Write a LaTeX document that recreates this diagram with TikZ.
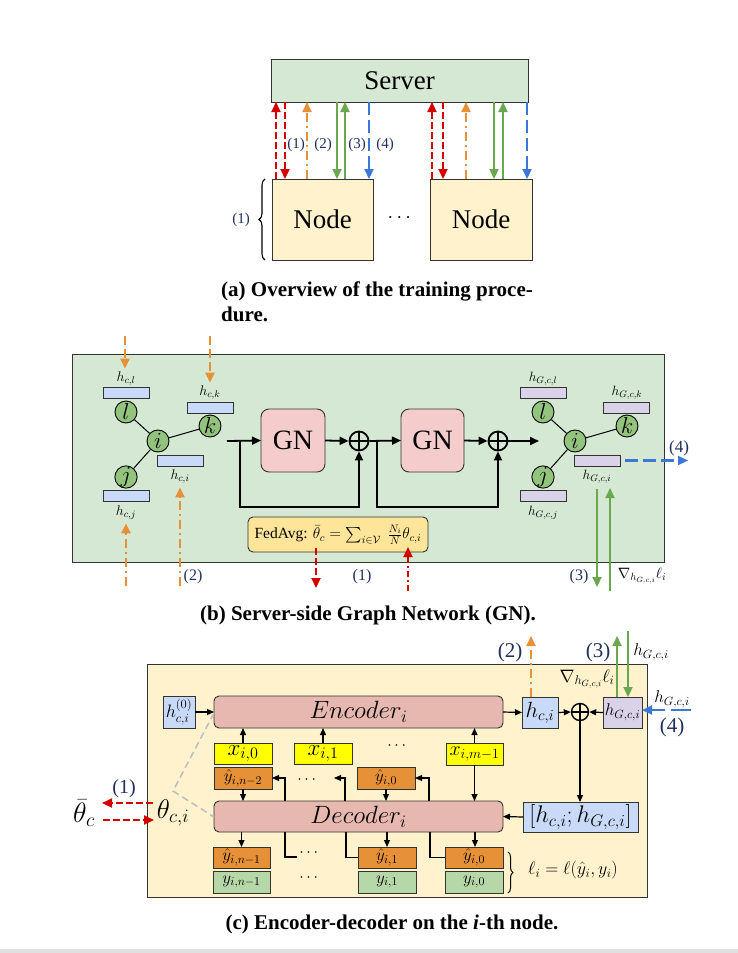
\RequirePackage{fix-cm}
\documentclass[tikz,border=0pt]{standalone}
\usepackage[no-math]{fontspec}
\setmainfont{Liberation Serif}
\usepackage{amsmath,amssymb}
\usetikzlibrary{arrows.meta,calc,decorations.pathreplacing}
\newcommand{\fsz}[1]{\fontsize{#1}{#1}\selectfont}
\definecolor{gnfill}{HTML}{D5E8D4}
\definecolor{nodefill}{HTML}{FFF2CC}
\definecolor{pinkfill}{HTML}{F4CCCC}
\definecolor{encfill}{HTML}{E6B8AF}
\definecolor{barblue}{HTML}{C9DAF8}
\definecolor{barpurple}{HTML}{D9D2E9}
\definecolor{xyellow}{HTML}{FFFF00}
\definecolor{yorange}{HTML}{E69138}
\definecolor{ygreen}{HTML}{B6D7A8}
\definecolor{fedfill}{HTML}{FFE599}
\definecolor{circgreen}{HTML}{93C47D}
\definecolor{ared}{HTML}{D40000}
\definecolor{aorange}{HTML}{E69138}
\definecolor{agreen}{HTML}{6AA84F}
\definecolor{ablue}{HTML}{3C78D8}
\definecolor{labblue}{HTML}{1F2F5F}
\definecolor{edge}{HTML}{333333}
\definecolor{grayline}{HTML}{BDBDBD}
\tikzset{
  bx/.style={draw=edge, line width=0.9pt, inner sep=0pt, outer sep=0pt, anchor=center},
  arrtip/.style={-{Triangle[length=10pt,width=9pt]}},
  aR/.style={draw=ared, line width=2.2pt, dash pattern=on 7pt off 3pt, arrtip},
  aO/.style={draw=aorange, line width=2.2pt, dash pattern=on 9pt off 4pt on 2pt off 4pt, arrtip},
  aOd/.style={draw=aorange, line width=2.2pt, dash pattern=on 9pt off 4pt, arrtip},
  aG/.style={draw=agreen, line width=2.2pt, arrtip},
  aB/.style={draw=ablue, line width=2.2pt, dash pattern=on 13pt off 5pt, arrtip},
  blk/.style={draw=black, line width=1.8pt, -{Triangle[length=9pt,width=8pt]}},
  blks/.style={draw=black, line width=1.2pt, -{Triangle[length=7pt,width=6pt]}},
  plainl/.style={draw=black, line width=1.2pt},
  lab/.style={text=labblue, inner sep=0pt},
  gcirc/.style={circle, draw=black, fill=circgreen, line width=0.9pt, minimum size=22pt, inner sep=0pt, font=\fsz{23}},
  barb/.style={bx, fill=barblue, minimum width=46pt, minimum height=11pt},
  barp/.style={bx, fill=barpurple, minimum width=46pt, minimum height=11pt},
  oplus/.style={circle, draw=black, line width=1.8pt, minimum size=19pt, inner sep=0pt,
    path picture={\draw[line width=1.8pt] (path picture bounding box.north) -- (path picture bounding box.south)
      (path picture bounding box.west) -- (path picture bounding box.east);}},
  captext/.style={inner sep=0pt, font=\fsz{21}\bfseries},
}
\begin{document}
\begin{tikzpicture}[x=1pt,y=-1pt]
\useasboundingbox (0,0) rectangle (738,953);
\fill[white] (0,0) rectangle (738,953);
\fill[black!12] (0,949) rectangle (738,953);

%% ---------------- (a) ----------------
\node[bx, fill=gnfill, minimum width=257pt, minimum height=43pt, font=\fsz{27}] (server) at (399.5,80.5) {Server};
\node[bx, fill=nodefill, minimum width=101pt, minimum height=81pt, font=\fsz{27}] (nodeL) at (322.5,219.5) {Node};
\node[bx, fill=nodefill, minimum width=102pt, minimum height=81pt, font=\fsz{27}] (nodeR) at (481,219.5) {Node};
\node[font=\fsz{20}] (dotsA) at (401,218) {$\cdots$};

\draw[aR] (nodeL.north -| 276,0) -- (server.south -| 276,0);
\draw[aR] (server.south -| 285,0) -- (nodeL.north -| 285,0);
\draw[aO] (nodeL.north -| 307,0) -- (server.south -| 307,0);
\draw[aG] (server.south -| 337,0) -- (nodeL.north -| 337,0);
\draw[aG] (nodeL.north -| 345,0) -- (server.south -| 345,0);
\draw[aB] (server.south -| 369,0) -- (nodeL.north -| 369,0);

\draw[aR] (nodeR.north -| 432,0) -- (server.south -| 432,0);
\draw[aR] (server.south -| 443,0) -- (nodeR.north -| 443,0);
\draw[aO] (nodeR.north -| 466,0) -- (server.south -| 466,0);
\draw[aG] (server.south -| 494,0) -- (nodeR.north -| 494,0);
\draw[aG] (nodeR.north -| 503,0) -- (server.south -| 503,0);
\draw[aB] (server.south -| 527,0) -- (nodeR.north -| 527,0);

\node[lab, font=\fsz{15}] (la1) at (296,145) {(1)};
\node[lab, font=\fsz{15}] (la2) at (323,145) {(2)};
\node[lab, font=\fsz{15}] (la3) at (357,145) {(3)};
\node[lab, font=\fsz{15}] (la4) at (385,145) {(4)};

\draw[decorate, decoration={brace, amplitude=6pt}, line width=1.1pt] (265,260) -- (265,179);
\node[lab, font=\fsz{15}] (lab1) at (241,220) {(1)};

\node[captext, anchor=west] (capA1) at (221,291) {(a) Overview of the training proce-};
\node[captext, anchor=west] (capA2) at (221,314) {dure.};

%% ---------------- (b) ----------------
\node[bx, fill=gnfill, minimum width=592pt, minimum height=208pt] (gnbox) at (368,458) {};

% left graph
\node[barb] (bcl) at (126,392.5) {};
\node[barb] (bck) at (210.5,407.5) {};
\node[barb] (bci) at (180.5,460.5) {};
\node[barb] (bcj) at (126,495.5) {};
\node[gcirc] (gl) at (126,412) {$l$};
\node[gcirc] (gi) at (158,441) {$i$};
\node[gcirc] (gk) at (210,426) {$k$};
\node[gcirc] (gj) at (126,477) {$j$};
\draw[line width=1pt] (gi) -- (gl) (gi) -- (gk) (gi) -- (gj);
\node[font=\fsz{14}] (tcl) at (126,379) {$h_{c,l}$};
\node[font=\fsz{14}] (tck) at (210,393) {$h_{c,k}$};
\node[font=\fsz{14}] (tci) at (180,477) {$h_{c,i}$};
\node[font=\fsz{14}] (tcj) at (126,513) {$h_{c,j}$};

% right graph
\node[barp] (bgl) at (543,392.5) {};
\node[barp] (bgk) at (626.5,407.5) {};
\node[barp] (bgi) at (597,460.5) {};
\node[barp] (bgj) at (543,495.5) {};
\node[gcirc] (hl) at (543,412) {$l$};
\node[gcirc] (hi) at (575,441) {$i$};
\node[gcirc] (hk) at (627,426) {$k$};
\node[gcirc] (hj) at (543,477) {$j$};
\draw[line width=1pt] (hi) -- (hl) (hi) -- (hk) (hi) -- (hj);
\node[font=\fsz{13.5}] (tgl) at (543,379) {$h_{G,c,l}$};
\node[font=\fsz{13.5}] (tgk) at (627,393) {$h_{G,c,k}$};
\node[font=\fsz{13.5}] (tgi) at (597,477) {$h_{G,c,i}$};
\node[font=\fsz{13.5}] (tgj) at (543,513) {$h_{G,c,j}$};

% orange arrows
\coordinate (ot1) at (125,336);
\coordinate (ot2) at (210,336);
\coordinate (ob1) at (126,586);
\coordinate (ob2) at (180,586);
\draw[aOd] (ot1) -- (tcl.north -| ot1);
\draw[aOd] (ot2) -- (tck.north -| ot2);
\draw[aO] (ob1) -- (tcj.south -| ob1);
\draw[aO] (ob2) -- (tci.south -| ob2);

% GN pipeline
\node[bx, fill=pinkfill, rounded corners=8pt, minimum width=64pt, minimum height=63pt, font=\fsz{28}] (gn1) at (293,440.5) {GN};
\node[bx, fill=pinkfill, rounded corners=8pt, minimum width=63pt, minimum height=63pt, font=\fsz{28}] (gn2) at (432.5,440.5) {GN};
\node[oplus] (op1) at (359,441) {};
\node[oplus] (op2) at (498,441) {};
\coordinate (in1) at (227,441);
\coordinate (fb1) at (240,441);
\coordinate (fb2) at (377,441);
\coordinate (out1) at (539,441);
\draw[blk] (in1) -- (gn1.west);
\draw[blk] (gn1.east) -- (op1.west);
\draw[blk] (op1.east) -- (gn2.west);
\draw[blk] (gn2.east) -- (op2.west);
\draw[blk] (op2.east) -- (out1);
\draw[blk] (fb1) -- (240,507) -| (op1.south);
\draw[blk] (fb2) -- (377,507) -| (op2.south);

% FedAvg
\node[bx, fill=fedfill, rounded corners=5pt, minimum width=180pt, minimum height=35pt, font=\fsz{15.5}] (fed) at (338,534.5)
  {FedAvg: $\bar{\theta}_c = \sum_{i\in\mathcal{V}}\;\frac{N_i}{N}\theta_{c,i}$};
\coordinate (fd1) at (316,548);
\coordinate (fd2) at (316,588);
\coordinate (fu1) at (408,591);
\coordinate (fu2) at (408,547);
\draw[aR] (fd1) -- (fd2);
\draw[aR, dash pattern=on 6pt off 3pt on 2pt off 3pt] (fu1) -- (fu2);

% blue and green
\coordinate (bl4) at (688,460.5);
\draw[aB] ([xshift=5pt]bgi.east) -- (bl4);
\node[lab, font=\fsz{17}] (lb4) at (679,448) {(4)};
\coordinate (gd2) at (597,587);
\coordinate (gu1) at (610,591);
\draw[aG] (tgi.south -| gd2) ++(0,2) -- (gd2);
\draw[aG] (gu1) -- (610,488);

\node[lab, font=\fsz{16}] (lb2) at (193,577) {(2)};
\node[lab, font=\fsz{16}] (lb1) at (362,577) {(1)};
\node[lab, font=\fsz{16}] (lb3) at (579,577) {(3)};
\node[font=\fsz{15}] (lbn) at (642,576) {$\nabla_{h_{G,c,i}}\ell_i$};

\node[captext] (capB) at (368,615) {(b) Server-side Graph Network (GN).};

%% ---------------- (c) ----------------
\node[bx, fill=nodefill, minimum width=500pt, minimum height=233pt] (encbox) at (397,780.5) {};

\node[bx, fill=barblue, minimum width=32pt, minimum height=32pt, font=\fsz{18}] (h0) at (179,712) {$h_{c,i}^{(0)}$};
\node[bx, fill=encfill, rounded corners=5pt, minimum width=289pt, minimum height=32pt, font=\fsz{25}] (enc) at (358.5,712) {$Encoder_i$};
\node[bx, fill=encfill, rounded corners=5pt, minimum width=289pt, minimum height=31pt, font=\fsz{25}] (dec) at (358.5,816.5) {$Decoder_i$};

\node[bx, fill=xyellow, minimum width=58pt, minimum height=21pt, font=\fsz{23}] (xi0) at (243,753.5) {$x_{i,0}$};
\node[bx, fill=xyellow, minimum width=58pt, minimum height=21pt, font=\fsz{23}] (xi1) at (323,753.5) {$x_{i,1}$};
\node[bx, fill=xyellow, minimum width=57pt, minimum height=22pt, font=\fsz{20}] (xim) at (474.5,754) {$x_{i,m-1}$};
\node[font=\fsz{16}] (dx) at (398,746) {$\cdots$};

\node[bx, fill=yorange, minimum width=58pt, minimum height=22pt, font=\fsz{17}] (yhn2) at (243,778) {$\hat{y}_{i,n-2}$};
\node[bx, fill=yorange, minimum width=58pt, minimum height=22pt, font=\fsz{17}] (yh0) at (386,778) {$\hat{y}_{i,0}$};
\node[font=\fsz{16}] (dy) at (308,780) {$\cdots$};

\node[bx, fill=yorange, minimum width=57pt, minimum height=21pt, font=\fsz{17}] (yhn1) at (241.5,857.5) {$\hat{y}_{i,n-1}$};
\node[bx, fill=ygreen, minimum width=57pt, minimum height=22pt, font=\fsz{17}] (yn1) at (241.5,882) {$y_{i,n-1}$};
\node[bx, fill=yorange, minimum width=58pt, minimum height=21pt, font=\fsz{17}] (yh1) at (387,857.5) {$\hat{y}_{i,1}$};
\node[bx, fill=ygreen, minimum width=58pt, minimum height=22pt, font=\fsz{17}] (y1) at (387,882) {$y_{i,1}$};
\node[bx, fill=yorange, minimum width=58pt, minimum height=21pt, font=\fsz{17}] (yh0b) at (474,857.5) {$\hat{y}_{i,0}$};
\node[bx, fill=ygreen, minimum width=58pt, minimum height=22pt, font=\fsz{17}] (y0) at (474,882) {$y_{i,0}$};
\node[font=\fsz{16}] (dy2) at (310,853) {$\cdots$};
\node[font=\fsz{16}] (dy3) at (310,878) {$\cdots$};

\node[bx, fill=barblue, minimum width=36pt, minimum height=31pt, font=\fsz{22}] (hci) at (540,712.5) {$h_{c,i}$};
\node[oplus, minimum size=17pt, line width=1.4pt] (opc) at (580,712) {};
\node[bx, fill=barpurple, minimum width=39pt, minimum height=31pt, font=\fsz{17}] (hgci) at (622.5,712.5) {$h_{G,c,i}$};
\node[bx, fill=barblue, minimum width=115pt, minimum height=30pt, font=\fsz{24}] (hh) at (580.5,817) {$[h_{c,i};h_{G,c,i}]$};

% black arrows in (c)
\draw[blks] (h0.east) -- (enc.west);
\draw[blks] (xi0.north) -- (xi0.north |- enc.south);
\draw[blks] (xi1.north) -- (xi1.north |- enc.south);
\draw[blks] (xim.north) -- (xim.north |- enc.south);
\draw[blks] (xim.south) -- (xim.south |- dec.north);
\draw[blks] (yhn2.south) -- (yhn2.south |- dec.north);
\draw[blks] (yh0.south) -- (yh0.south |- dec.north);
\draw[blks] (dec.north -| 285,0) |- (yhn2.east);
\draw[blks] (dec.north -| 345,0) |- (334,778);
\draw[blks] (dec.north -| 429,0) |- (yh0.east);
\draw[blks] (enc.east) -- (hci.west);
\draw[blks] (hci.east) -- (opc.west);
\draw[blks] (hgci.west) -- (opc.east);
\draw[blks] (opc.south) -- (hh.north -| opc.south);
\draw[blks] (hh.west) -- (dec.east);
\draw[blks] (dec.south -| yhn1.north) -- (yhn1.north);
\draw[plainl] (dec.south -| 285,0) |- (297,857);
\draw[plainl] (dec.south -| 346,0) |- (yh1.west);
\draw[blks] (dec.south -| yh1.north) -- (yh1.north);
\draw[plainl] (dec.south -| 430,0) |- (yh0b.west);
\draw[blks] (dec.south -| 475,0) -- (yh0b.north -| 475,0);

\draw[decorate, decoration={brace, amplitude=5pt}, line width=1pt] (508,852) -- (508,893);
\node[font=\fsz{18}] (loss) at (573,870) {$\ell_i = \ell(\hat{y}_i, y_i)$};

% colored arrows in (c)
\coordinate (o2top) at (531,636);
\draw[aO] (hci.north -| o2top) -- (o2top);
\coordinate (g3top) at (617,636);
\coordinate (g3s) at (628,631);
\draw[aG] (hgci.north -| g3top) -- (g3top);
\draw[aG] (g3s) -- (hgci.north -| g3s);
\coordinate (b4s) at (691,710);
\draw[aB, dash pattern=on 20pt off 6pt] (b4s) -- (hgci.east |- b4s);

\node[lab, font=\fsz{21}] (lc2) at (510,652) {(2)};
\node[lab, font=\fsz{21}] (lc3) at (598,652) {(3)};
\node[font=\fsz{17}] (lch) at (651,652) {$h_{G,c,i}$};
\node[font=\fsz{18}] (lcn) at (587,679) {$\nabla_{h_{G,c,i}}\ell_i$};
\node[font=\fsz{17}] (lch2) at (672,699) {$h_{G,c,i}$};
\node[lab, font=\fsz{21}] (lc4) at (672,727) {(4)};

% theta
\node[font=\fsz{27}] (thci) at (173,813) {$\theta_{c,i}$};
\node[font=\fsz{28}] (thb) at (84,813) {$\bar{\theta}_c$};
\coordinate (r1s) at (153,803);
\coordinate (r1e) at (102,803);
\coordinate (r2s) at (103,820);
\coordinate (r2e) at (154,820);
\draw[aR] (r1s) -- (r1e);
\draw[aR] (r2s) -- (r2e);
\node[lab, font=\fsz{20}] (lc1) at (124,789) {(1)};

\coordinate (gv) at (173,791);
\draw[grayline, line width=1.5pt, dash pattern=on 7pt off 4pt] (enc.west |- 0,713) -- (gv) -- (dec.west |- 0,817);

\node[captext] (capC) at (392,924) {(c) Encoder-decoder on the \textit{i}-th node.};
\end{tikzpicture}
\end{document}
